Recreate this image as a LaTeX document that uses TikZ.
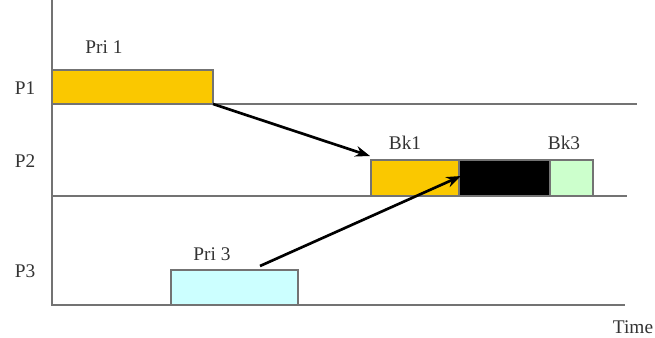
\documentclass[tikz,border=0pt]{standalone}
\usepackage{fontspec}
\setmainfont{Liberation Serif}
\usetikzlibrary{arrows.meta}
\begin{document}
\begin{tikzpicture}[x=0.75pt,y=-0.75pt,
  axis/.style={draw=black!55,line width=1.5pt},
  slot/.style={draw=black!55,line width=1.2pt},
  lbl/.style={font=\fontsize{14.5}{16}\selectfont,text=black!80,inner sep=0pt},
  link/.style={draw=black,line width=2pt,-{Stealth[length=11pt,width=8pt]}}]
\useasboundingbox (0,0) rectangle (655,337);
\definecolor{pri}{HTML}{FAC800}
\definecolor{cyanbox}{HTML}{CCFFFF}
\definecolor{greenbox}{HTML}{CCFFCC}
% axes and process lanes
\draw[axis] (52,0) -- (52,305) -- (625,305);
\draw[axis] (52,104) -- (637,104);
\draw[axis] (52,196) -- (627,196);
% lane labels
\node[lbl] (p1) at (25,88) {P1};
\node[lbl] (p2) at (25,161) {P2};
\node[lbl] (p3) at (25,271) {P3};
\node[lbl] (time) at (633,327) {Time};
% execution slots
\path[slot,fill=pri] (52,70) rectangle (213,104);
\coordinate (pri1out) at (213,104);
\path[slot,fill=pri] (371,160) rectangle (459,196);
\path[slot,fill=black] (459,160) rectangle (550,196);
\path[slot,fill=greenbox] (550,160) rectangle (593,196);
\path[slot,fill=cyanbox] (171,270) rectangle (298,305);
% slot labels
\node[lbl] (pri1) at (104,47) {Pri 1};
\node[lbl] (bk1) at (405,143) {Bk1};
\node[lbl] (bk3) at (564,143) {Bk3};
\node[lbl] (pri3) at (212,254) {Pri 3};
% blocking transfers
\coordinate (bk1in) at (370,156);
\coordinate (pri3out) at (260,266);
\coordinate (blkin) at (461,176);
\draw[link] (pri1out) -- (bk1in);
\draw[link] (pri3out) -- (blkin);
\end{tikzpicture}
\end{document}
